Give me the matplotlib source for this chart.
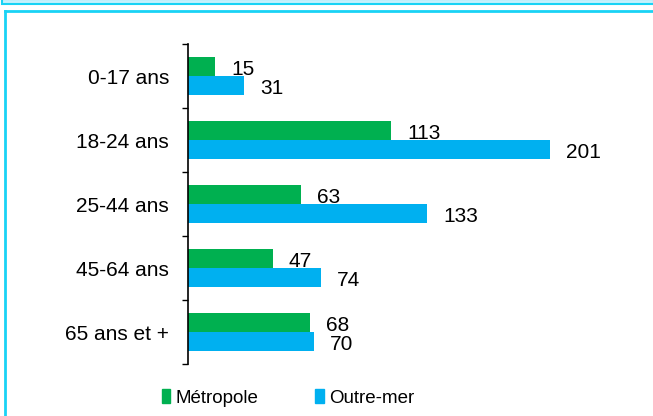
import matplotlib
matplotlib.use("Agg")
import matplotlib.pyplot as plt
from matplotlib.patches import Rectangle
from matplotlib.lines import Line2D
import numpy as np

plt.rcParams['font.family'] = ['Liberation Sans', 'DejaVu Sans']

# data
categories = ["0-17 ans", "18-24 ans", "25-44 ans", "45-64 ans", "65 ans et +"]
metropole = [15, 113, 63, 47, 68]
outremer = [31, 201, 133, 74, 70]
series_names = ["Métropole", "Outre-mer"]

green = "#00b050"
blue = "#00b0f0"
frame = "#19d3f5"

fig = plt.figure(figsize=(6.53, 4.16), dpi=100)
ax = fig.add_axes([188/653, 1-364/416, 450/653, 320/416])

y = np.arange(len(categories))
h = 0.29
b1 = ax.barh(y - h/2, metropole, height=h, color=green, label=series_names[0])
b2 = ax.barh(y + h/2, outremer, height=h, color=blue, label=series_names[1])

for bars, vals in ((b1, metropole), (b2, outremer)):
    for bar, v in zip(bars, vals):
        ax.annotate(str(v), (bar.get_width(), bar.get_y() + bar.get_height()/2),
                    xytext=(11.5, -2), textcoords="offset points",
                    ha="left", va="center", fontsize=15)

ax.set_xlim(0, 250)
ax.set_ylim(len(categories) - 0.5, -0.5)
ax.set_yticks(y)
ax.set_yticklabels(categories, fontsize=15)
ax.set_yticks(np.arange(len(categories) + 1) - 0.5, minor=True)
ax.tick_params(axis="y", which="major", length=0, pad=13.5)
ax.tick_params(axis="y", which="minor", length=4, width=1, direction="out")
ax.set_xticks([])
for s in ("top", "right", "bottom"):
    ax.spines[s].set_visible(False)
ax.spines["left"].set_linewidth(1.2)

handles = [Rectangle((0, 0), 1, 1, color=green), Rectangle((0, 0), 1, 1, color=blue)]
fig.legend(handles, series_names, loc="center left", bbox_to_anchor=(145/653, 1-398/416),
           ncol=2, frameon=False, fontsize=13.5, handlelength=0.45, handleheight=0.7,
           handletextpad=0.3, columnspacing=3.0)

# outer frames
fig.patches.append(Rectangle((2/653, 1-4/416), 652/653, 5/416, transform=fig.transFigure,
                             facecolor="#c6f1fc", edgecolor=frame, linewidth=1.5))
fig.add_artist(Line2D([5/653, 1], [1-11/416, 1-11/416], color=frame, linewidth=2,
                      transform=fig.transFigure))
fig.add_artist(Line2D([5/653, 5/653], [0, 1-11/416], color=frame, linewidth=2,
                      transform=fig.transFigure))

fig.savefig("out.png", dpi=100)
